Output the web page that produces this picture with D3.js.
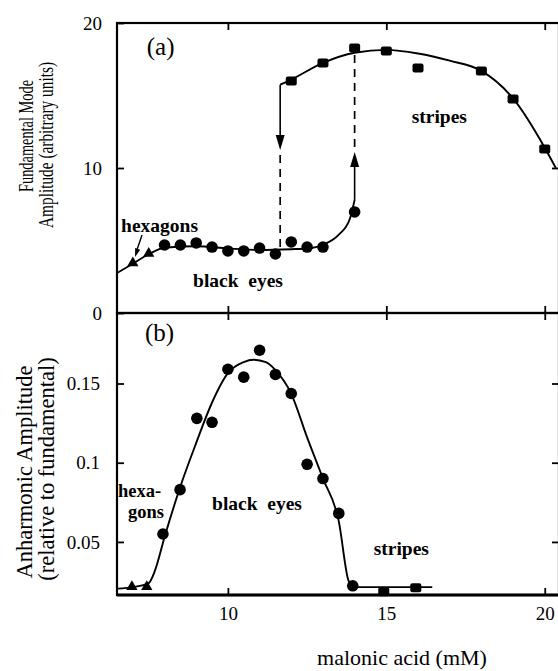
<!DOCTYPE html>
<html>
<head>
<meta charset="utf-8">
<script src="https://cdn.jsdelivr.net/npm/d3@7"></script>
<style>
  body { margin: 0; background: #fff; }
  text { font-family: "Liberation Serif", "Times New Roman", serif; fill: #000; }
  .lbl { font-weight: bold; white-space: pre; }
</style>
</head>
<body>
<script>
// panel (a): fundamental mode amplitude
let aHexX = [7.0, 7.5];
let aHexY = [3.45, 4.1];
let aEyesX = [8, 8.5, 9, 9.5, 10, 10.5, 11, 11.5, 12, 12.5, 13, 14];
let aEyesY = [4.69, 4.69, 4.83, 4.55, 4.28, 4.28, 4.48, 4.07, 4.9, 4.55, 4.55, 6.97];
let aStripeX = [12, 13, 14, 15, 16, 18, 19, 20];
let aStripeY = [16.0, 17.24, 18.28, 18.07, 16.9, 16.69, 14.76, 11.31];
// fitted curves
let aEyesCurveX = [6.5, 7.0, 7.5, 8, 9, 10, 11, 12, 12.5, 13, 13.5, 13.85, 14.0];
let aEyesCurveY = [2.76, 3.4, 4.05, 4.5, 4.6, 4.45, 4.35, 4.4, 4.45, 4.7, 5.4, 6.5, 7.8];
let aStripeCurveX = [11.65, 12, 13, 14, 15, 16, 17, 18, 19, 20, 20.35];
let aStripeCurveY = [15.75, 16.1, 17.25, 17.95, 18.15, 17.9, 17.4, 16.7, 14.8, 11.4, 10.0];
// jumps: x, start of solid, arrow tip, end of dashed
let jumpX = [11.65, 14.0];
let jumpFrom = [15.75, 7.8];
let jumpTip = [11.24, 11.1];
let jumpTo = [4.4, 18.0];

// panel (b): anharmonic amplitude
let bHexX = [6.97, 7.44];
let bHexY = [0.0217, 0.0217];
let bEyesX = [7.95, 8.49, 9.02, 9.5, 10, 10.5, 11, 11.5, 12, 12.5, 13, 13.5, 13.94];
let bEyesY = [0.055, 0.083, 0.128, 0.1255, 0.159, 0.154, 0.171, 0.1557, 0.1437, 0.099, 0.090, 0.068, 0.0223];
let bStripeX = [14.92, 15.93];
let bStripeY = [0.0186, 0.021];
let bCurveX = [6.52, 7, 7.5, 7.7, 8, 8.5, 9, 9.5, 10, 10.5, 10.8, 11.2, 11.5, 12, 12.5, 13, 13.5, 13.8, 13.95, 16.45];
let bCurveY = [0.0205, 0.0215, 0.024, 0.032, 0.053, 0.085, 0.1125, 0.138, 0.1565, 0.1635, 0.165, 0.1635, 0.1585, 0.1435, 0.116, 0.09, 0.063, 0.026, 0.0215, 0.0215];

let xTicks = [10, 15, 20];
let xLabels = ["10", "15", "20"];
let aYTicks = [0, 10, 20];
let aYLabels = ["0", "10", "20"];
let bYTicks = [0.05, 0.1, 0.15];
let bYLabels = ["0.05", "0.1", "0.15"];

const width = 558, height = 671;
const left = 117, right = 559;
const aTop = 23, mid = 313, bBottom = 595;

let svg = d3.select("body").append("svg")
  .attr("width", width)
  .attr("height", height);

let x = d3.scaleLinear().domain([6.5, 20.45]).range([left, right]);
let yA = d3.scaleLinear().domain([0, 20]).range([mid, aTop]);
let yB = d3.scaleLinear().domain([0.0165, 0.1945]).range([bBottom, mid]);

let zip = (xs, ys) => xs.map((d, i) => [d, ys[i]]);

// frames
svg.append("rect").attr("x", left).attr("y", aTop).attr("width", right - left).attr("height", mid - aTop)
  .attr("fill", "none").attr("stroke", "#000").attr("stroke-width", 2.2);
svg.append("rect").attr("x", left).attr("y", mid).attr("width", right - left).attr("height", bBottom - mid)
  .attr("fill", "none").attr("stroke", "#000").attr("stroke-width", 2.2);
svg.append("line").attr("x1", left).attr("x2", right).attr("y1", bBottom).attr("y2", bBottom)
  .attr("stroke", "#000").attr("stroke-width", 3);

function styleAxis(g, size) {
  g.select(".domain").remove();
  g.selectAll("line").attr("stroke-width", 1.8);
  g.selectAll("text").style("font-family", "Liberation Serif, serif").style("font-size", size + "px");
}

// left axes
svg.append("g").attr("transform", `translate(${left},0)`)
  .call(d3.axisLeft(yA).tickValues(aYTicks).tickFormat((d, i) => aYLabels[i]).tickSize(-7).tickPadding(15))
  .call(g => styleAxis(g, 19));
svg.append("g").attr("transform", `translate(${left},0)`)
  .call(d3.axisLeft(yB).tickValues(bYTicks).tickFormat((d, i) => bYLabels[i]).tickSize(-7).tickPadding(17))
  .call(g => styleAxis(g, 19));
// right axes (inward ticks only)
svg.append("g").attr("transform", `translate(${right},0)`)
  .call(d3.axisRight(yA).tickValues([10]).tickFormat("").tickSize(-7))
  .call(g => styleAxis(g, 19));
svg.append("g").attr("transform", `translate(${right},0)`)
  .call(d3.axisRight(yB).tickValues(bYTicks).tickFormat("").tickSize(-7))
  .call(g => styleAxis(g, 19));
// top ticks
svg.append("g").attr("transform", `translate(0,${aTop})`)
  .call(d3.axisTop(x).tickValues(xTicks).tickFormat("").tickSize(-7))
  .call(g => styleAxis(g, 19));
// shared middle line: ticks both ways
svg.append("g").attr("transform", `translate(0,${mid})`)
  .call(d3.axisTop(x).tickValues(xTicks).tickFormat("").tickSize(7))
  .call(g => styleAxis(g, 19));
svg.append("g").attr("transform", `translate(0,${mid})`)
  .call(d3.axisBottom(x).tickValues(xTicks).tickFormat("").tickSize(7))
  .call(g => styleAxis(g, 19));
// bottom axis
svg.append("g").attr("transform", `translate(0,${bBottom})`)
  .call(d3.axisBottom(x).tickValues(xTicks).tickFormat((d, i) => xLabels[i]).tickSize(-7).tickPadding(12))
  .call(g => styleAxis(g, 19));

// curves
let lineA = d3.line().x(d => x(d[0])).y(d => yA(d[1])).curve(d3.curveMonotoneX);
let lineB = d3.line().x(d => x(d[0])).y(d => yB(d[1])).curve(d3.curveMonotoneX);

svg.append("path").attr("d", lineA(zip(aEyesCurveX, aEyesCurveY)))
  .attr("fill", "none").attr("stroke", "#000").attr("stroke-width", 1.9);
svg.append("path").attr("d", lineA(zip(aStripeCurveX, aStripeCurveY)))
  .attr("fill", "none").attr("stroke", "#000").attr("stroke-width", 1.9);
svg.append("path").attr("d", lineB(zip(bCurveX, bCurveY)))
  .attr("fill", "none").attr("stroke", "#000").attr("stroke-width", 1.9);

// jump arrows
jumpX.forEach((jx, i) => {
  let px = x(jx);
  let dir = jumpTip[i] < jumpFrom[i] ? 1 : -1; // 1 = pointing down
  let tip = yA(jumpTip[i]);
  svg.append("line").attr("x1", px).attr("x2", px)
    .attr("y1", yA(jumpFrom[i])).attr("y2", tip - dir * 10)
    .attr("stroke", "#000").attr("stroke-width", 1.6);
  svg.append("path")
    .attr("d", `M${px},${tip} L${px - 4.5},${tip - dir * 15} L${px + 4.5},${tip - dir * 15} Z`)
    .attr("fill", "#000");
  svg.append("line").attr("x1", px).attr("x2", px)
    .attr("y1", tip + dir * 5).attr("y2", yA(jumpTo[i]))
    .attr("stroke", "#000").attr("stroke-width", 1.7).attr("stroke-dasharray", "8,6");
});

// markers
function circles(xs, ys, y) {
  svg.append("g").selectAll("circle").data(zip(xs, ys)).join("circle")
    .attr("cx", d => x(d[0])).attr("cy", d => y(d[1])).attr("r", 5.8).attr("fill", "#000");
}
function squares(xs, ys, y) {
  svg.append("g").selectAll("rect").data(zip(xs, ys)).join("rect")
    .attr("x", d => x(d[0]) - 5.5).attr("y", d => y(d[1]) - 4.5)
    .attr("width", 11).attr("height", 9).attr("rx", 2).attr("fill", "#000");
}
function triangles(xs, ys, y) {
  svg.append("g").selectAll("path").data(zip(xs, ys)).join("path")
    .attr("transform", d => `translate(${x(d[0])},${y(d[1])})`)
    .attr("d", d3.symbol(d3.symbolTriangle, 55)).attr("fill", "#000");
}
triangles(aHexX, aHexY, yA);
circles(aEyesX, aEyesY, yA);
squares(aStripeX, aStripeY, yA);
triangles(bHexX, bHexY, yB);
circles(bEyesX, bEyesY, yB);
squares(bStripeX, bStripeY, yB);

// annotations
function label(txt, px, py, cls, size) {
  return svg.append("text").attr("x", px).attr("y", py).attr("class", cls)
    .style("font-size", size + "px").text(txt);
}
label("(a)", x(7.44), yA(17.8), "", 25);
label("(b)", x(7.38), yB(0.177), "", 25);
label("hexagons", x(6.63), yA(5.59), "lbl", 19.5);
label("black  eyes", x(8.9), yA(1.8), "lbl", 19.5);
label("stripes", x(15.8), yA(13.1), "lbl", 19.5);
let hg = svg.append("text").attr("class", "lbl").style("font-size", "18.5px");
hg.append("tspan").attr("x", x(6.53)).attr("y", yB(0.0785)).text("hexa-");
hg.append("tspan").attr("x", x(6.85)).attr("y", yB(0.0652)).text("gons");
label("black  eyes", x(9.5), yB(0.0702), "lbl", 19.5);
label("stripes", x(14.6), yB(0.0418), "lbl", 19.5);

// small arrow to the hexagon points
let hx1 = x(7.29), hy1 = yA(5.38), hx2 = x(7.07), hy2 = yA(3.86);
svg.append("line").attr("x1", hx1).attr("y1", hy1).attr("x2", hx2 + 1.5).attr("y2", hy2 - 6)
  .attr("stroke", "#000").attr("stroke-width", 1.4);
let ang = Math.atan2(hy2 - hy1, hx2 - hx1);
svg.append("path")
  .attr("d", `M${hx2},${hy2} L${hx2 - 9 * Math.cos(ang - 0.3)},${hy2 - 9 * Math.sin(ang - 0.3)} L${hx2 - 9 * Math.cos(ang + 0.3)},${hy2 - 9 * Math.sin(ang + 0.3)} Z`)
  .attr("fill", "#000");

// axis titles (rotated); the top one is set tight like the original
function ytitle(txt, cy, base, size, len) {
  let t = svg.append("text").attr("transform", `translate(${base},${cy}) rotate(-90)`)
    .attr("text-anchor", "middle").style("font-size", size + "px").text(txt);
  if (len) t.attr("textLength", len).attr("lengthAdjust", "spacingAndGlyphs");
}
ytitle("Fundamental Mode", 136, 33, 21, 112);
ytitle("Amplitude (arbitrary units)", 145, 53, 21, 166);
ytitle("Anharmonic Amplitude", 472, 32, 22.5);
ytitle("(relative to fundamental)", 469, 54, 22.5);

svg.append("text").attr("x", 402).attr("y", 665).attr("text-anchor", "middle")
  .style("font-size", "22px").text("malonic acid (mM)");
</script>
</body>
</html>
